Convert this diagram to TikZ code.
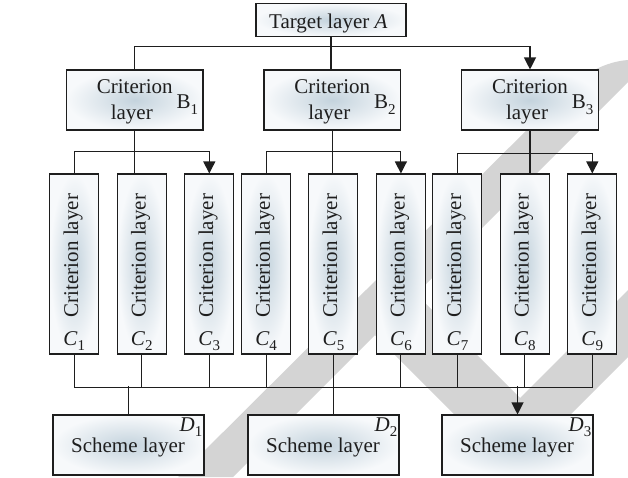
\documentclass[tikz,border=0pt]{standalone}
\usepackage{fontspec}
\setmainfont{Liberation Serif}
\usetikzlibrary{arrows.meta}
\definecolor{wm}{RGB}{212,212,212}
\definecolor{boxin}{RGB}{196,211,221}
\definecolor{boxout}{RGB}{247,249,251}
\definecolor{ink}{RGB}{30,30,30}
% lowered index digit
\newcommand\idx[1]{\raisebox{-5.5pt}{\fontsize{15}{15}\selectfont #1}}
\begin{document}
\begin{tikzpicture}[x=1pt,y=-1pt,
  box/.style={draw=ink, line width=1.1pt, inner color=boxin, outer color=boxout, inner sep=0pt},
  txt/.style={font=\fontsize{21}{24}\selectfont, inner sep=0pt, text=ink},
  link/.style={draw=ink, line width=1.1pt},
  arr/.style={-{Triangle[width=12pt,length=12pt]}}]
\useasboundingbox (0,0) rectangle (628,477);

% background logo bands
\fill[wm] (178,477) -- (233,477) -- (628,82) -- (628,60)
  .. controls (600,62) and (575,80) .. (560,97) -- cycle;
\fill[wm] (375,335) -- (416,294) -- (520,398) -- (628,290)
  -- (628,357) -- (512.5,472.5) -- cycle;

% target layer
\node[box, minimum width=150pt, minimum height=33pt] (T) at (331,20) {};
\node[txt, anchor=base] (Tt) at (328.3,28.3) {Target layer \textit{A}};

% criterion layer B
\foreach \i/\x in {1/134.75, 2/332.25, 3/530} {
  \node[box, minimum width=136.5pt, minimum height=60pt] (B\i) at (\x,100) {};
  \node[txt, anchor=base] (Bt\i) at (\x,93.3) {Criterion};
  \node[txt, anchor=base] (Bl\i) at ([xshift=-3pt]\x,119.3) {layer};
  \node[txt, anchor=base east] (Bs\i) at ([xshift=63.5pt]\x,108.5) {B\idx{\i}};
}

% criterion layer C
\foreach \i/\x in {1/74.3, 2/141.7, 3/209.3, 4/266.1, 5/333.4, 6/400.9, 7/457.4, 8/524.8, 9/592.3} {
  \node[box, minimum width=49pt, minimum height=180pt] (C\i) at (\x,264) {};
  \node[txt, rotate=90, anchor=base] (Ct\i) at ([xshift=3.8pt,yshift=8.5pt]C\i.center) {Criterion layer};
  \node[txt, anchor=base] (Cs\i) at ([yshift=9.5pt]C\i.south) {\textit{C}\idx{\i}};
}

% scheme layer D
\foreach \i/\x in {1/128.5, 2/323.5, 3/517.5} {
  \node[box, minimum width=151pt, minimum height=60pt] (D\i) at (\x,445) {};
  \node[txt, anchor=base] (Dt\i) at ([xshift=-0.5pt]\x,452) {Scheme layer};
  \node[txt, anchor=base east] (Ds\i) at ([xshift=-2pt,yshift=-16.7pt]D\i.north east) {\textit{D}\idx{\i}};
}

% A to B
\draw[link] (T.south) -- (T.south |- B2.north);
\draw[link, arr] (B1.north) -- ++(0,-23.3) -| (B3.north);

% B to C
\draw[link] (B1.south) -- (B1.south |- C2.north);
\draw[link, arr] (C1.north) -- ++(0,-22.3) -| (C3.north);
\draw[link] (B2.south) -- (B2.south |- C5.north);
\draw[link, arr] (C4.north) -- ++(0,-22.3) -| (C6.north);
\draw[link] (B3.south) -- (B3.south |- C8.north);
\draw[link, arr] (C7.north) -- ++(0,-20) -| (C9.north);

% C to D
\draw[link] (C1.south) -- ++(0,32.7) -| (C9.south);
\foreach \i in {2,3,4,6,7,8} {
  \draw[link] (C\i.south) -- ++(0,32.7);
}
\draw[link] (C5.south) -- (C5.south |- D2.north);
\draw[link] (D1.north) -- ++(0,-28.3);
\coordinate (d3bus) at ([yshift=28.3pt]D3.north);
\draw[link, arr] (d3bus) -- (D3.north);
\end{tikzpicture}
\end{document}
